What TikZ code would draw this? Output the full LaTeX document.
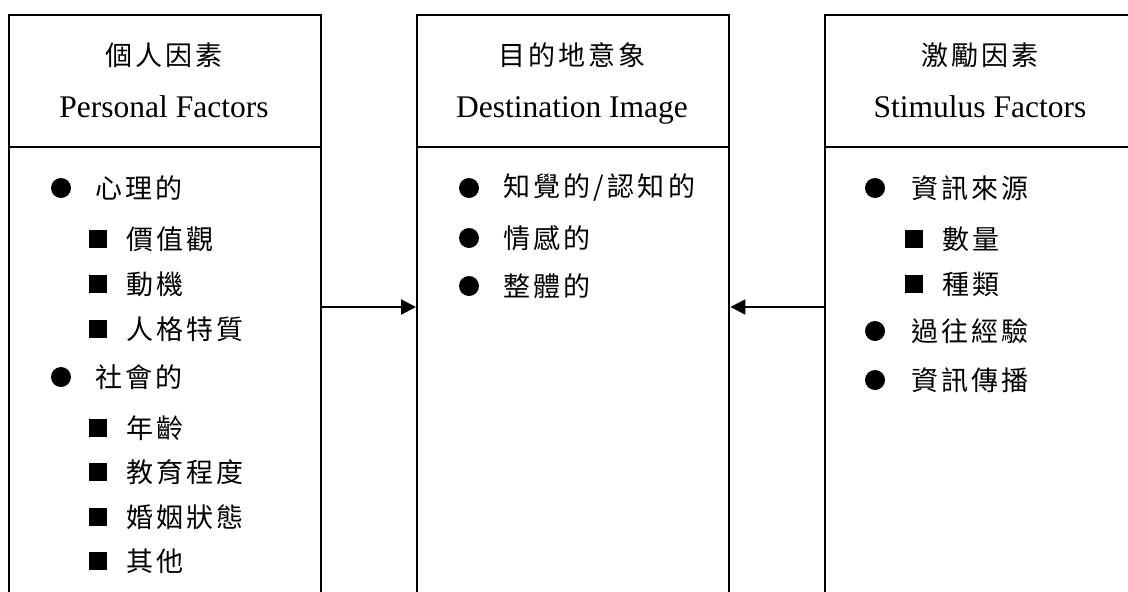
\documentclass[tikz,border=0pt]{standalone}
\usepackage{fontspec}
\setmainfont{Liberation Serif}
\newfontfamily\cjk{Noto Sans CJK TC}[LetterSpace=12]
\usetikzlibrary{arrows.meta}
\tikzset{
  boxhead/.style={draw, line width=2.4pt, minimum width=312pt, minimum height=132pt, inner sep=0pt, anchor=north west},
  boxbody/.style={draw, line width=2.4pt, minimum width=312pt, minimum height=600pt, inner sep=0pt, anchor=north west},
  zh/.style={font=\cjk\fontsize{27}{32}\selectfont, inner sep=0pt},
  en/.style={font=\fontsize{31.5}{36}\selectfont, inner sep=0pt, anchor=base},
  txt/.style={zh, anchor=west},
  dotb/.style={circle, fill=black, minimum size=20pt, inner sep=0pt},
  sqb/.style={rectangle, fill=black, minimum size=18pt, inner sep=0pt},
  arr/.style={line width=2.2pt, -{Triangle[length=15pt,width=15pt]}}
}
\begin{document}
\begin{tikzpicture}[x=1pt,y=-1pt]
\useasboundingbox (0,0) rectangle (1128,592);
\clip (0,0) rectangle (1128,592);
% boxes
\node[boxhead] (Lh) at (8,14) {};
\node[boxbody] (Lb) at (8,146) {};
\node[boxhead] (Mh) at (416,14) {};
\node[boxbody] (Mb) at (416,146) {};
\node[boxhead] (Rh) at (824,14) {};
\node[boxbody] (Rb) at (824,146) {};
% headers
\node[zh] (Lt1) at (164,55) {個人因素};
\node[en] (Lt2) at (164,117) {Personal Factors};
\node[zh] (Mt1) at (572,55) {目的地意象};
\node[en] (Mt2) at (572,117) {Destination Image};
\node[zh] (Rt1) at (980,55) {激勵因素};
\node[en] (Rt2) at (980,117) {Stimulus Factors};
% left list
\node[dotb] (La) at (61,188) {};  \node[txt] (Lat) at (95,188) {心理的};
\node[sqb] (Lb1) at (98,239) {};  \node[txt] (Lb1t) at (126,239) {價值觀};
\node[sqb] (Lb2) at (98,284) {};  \node[txt] (Lb2t) at (126,284) {動機};
\node[sqb] (Lb3) at (98,329) {};  \node[txt] (Lb3t) at (126,329) {人格特質};
\node[dotb] (Lc) at (61,377) {};  \node[txt] (Lct) at (95,377) {社會的};
\node[sqb] (Ld1) at (98,428) {};  \node[txt] (Ld1t) at (126,428) {年齡};
\node[sqb] (Ld2) at (98,472) {};  \node[txt] (Ld2t) at (126,472) {教育程度};
\node[sqb] (Ld3) at (98,517) {};  \node[txt] (Ld3t) at (126,517) {婚姻狀態};
\node[sqb] (Ld4) at (98,561) {};  \node[txt] (Ld4t) at (126,561) {其他};
% middle list
\node[dotb] (Ma) at (469,188) {}; \node[txt] (Mat) at (503,188) {知覺的/認知的};
\node[dotb] (Mb1) at (469,238) {}; \node[txt] (Mb1t) at (503,238) {情感的};
\node[dotb] (Mc) at (469,286) {}; \node[txt] (Mct) at (503,286) {整體的};
% right list
\node[dotb] (Ra) at (875,188) {}; \node[txt] (Rat) at (911,188) {資訊來源};
\node[sqb] (Rb1) at (914,239) {}; \node[txt] (Rb1t) at (942,239) {數量};
\node[sqb] (Rb2) at (914,284) {}; \node[txt] (Rb2t) at (942,284) {種類};
\node[dotb] (Rc) at (875,331) {}; \node[txt] (Rct) at (911,331) {過往經驗};
\node[dotb] (Rd) at (875,380) {}; \node[txt] (Rdt) at (911,380) {資訊傳播};
% arrows
\draw[arr] (Lb.east |- 0,307) -- (Mb.west |- 0,307);
\draw[arr] (Rb.west |- 0,307) -- (Mb.east |- 0,307);
\end{tikzpicture}
\end{document}
